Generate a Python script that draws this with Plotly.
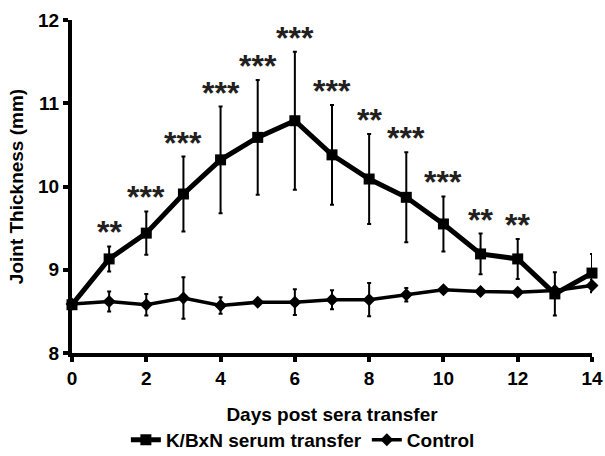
import plotly.graph_objects as go

days = list(range(15))
kbxn_mean = [8.58, 9.13, 9.44, 9.91, 10.32, 10.59, 10.79, 10.38, 10.09, 9.87, 9.55, 9.19, 9.13, 8.71, 8.96]
kbxn_err = [0.02, 0.15, 0.26, 0.45, 0.64, 0.69, 0.83, 0.60, 0.54, 0.54, 0.33, 0.245, 0.24, 0.26, 0.23]
ctrl_mean = [8.59, 8.62, 8.58, 8.66, 8.57, 8.61, 8.61, 8.64, 8.64, 8.70, 8.76, 8.74, 8.73, 8.75, 8.81]
ctrl_err = [0.02, 0.12, 0.13, 0.25, 0.10, 0.02, 0.155, 0.115, 0.20, 0.08, 0.02, 0.03, 0.02, 0.02, 0.07]
sig_labels = ["", "**", "***", "***", "***", "***", "***", "***", "**", "***", "***", "**", "**", "", ""]
y_ticks = [8, 9, 10, 11, 12]
x_ticks = [0, 2, 4, 6, 8, 10, 12, 14]

FONT = "Liberation Sans, Arial, sans-serif"

fig = go.Figure()
fig.add_trace(go.Scatter(
    x=days, y=kbxn_mean, mode="lines+markers", name="K/BxN serum transfer",
    line=dict(color="black", width=5),
    marker=dict(symbol="square", size=11, color="black"),
    error_y=dict(type="data", array=kbxn_err, color="black", thickness=2, width=2),
    cliponaxis=False,
))
fig.add_trace(go.Scatter(
    x=days, y=ctrl_mean, mode="lines+markers", name="Control",
    line=dict(color="black", width=3.5),
    marker=dict(symbol="diamond", size=10, color="black"),
    error_y=dict(type="data", array=ctrl_err, color="black", thickness=2, width=2),
    cliponaxis=False,
))

for d, m, e, s in zip(days, kbxn_mean, kbxn_err, sig_labels):
    if s:
        fig.add_annotation(x=d, y=m + e, text=s, showarrow=False,
                           yanchor="bottom", yshift=-6,
                           font=dict(family=FONT, size=32, color="#231f20", weight="bold"))

fig.update_layout(
    width=605, height=456,
    margin=dict(l=72, r=13, t=20, b=103, autoexpand=False),
    plot_bgcolor="white", paper_bgcolor="white",
    font=dict(family=FONT, color="black"),
    showlegend=True,
    legend=dict(orientation="h", x=0.444, xanchor="center", y=-0.261, yanchor="middle",
                font=dict(family=FONT, size=19, color="black", weight="bold"),
                itemwidth=30, tracegroupgap=0),
)
fig.update_xaxes(
    range=[0, 14], tickvals=x_ticks, ticktext=[str(v) for v in x_ticks],
    showline=True, linecolor="black", linewidth=4, showgrid=False, zeroline=False,
    ticks="outside", ticklen=5, tickwidth=4, tickcolor="black", automargin=False,
    ticklabeloverflow="allow",
    tickfont=dict(family=FONT, size=19, color="black", weight="bold"),
    title=dict(text="Days post sera transfer", standoff=21,
               font=dict(family=FONT, size=19, color="black", weight="bold")),
)
fig.update_yaxes(
    range=[8, 12], tickvals=y_ticks, ticktext=[str(v) for v in y_ticks],
    showline=True, linecolor="black", linewidth=4, showgrid=False, zeroline=False,
    ticks="outside", ticklen=5, tickwidth=4, tickcolor="black", automargin=False,
    tickfont=dict(family=FONT, size=19, color="black", weight="bold"),
    title=dict(text="Joint Thickness (mm)", standoff=10,
               font=dict(family=FONT, size=19, color="black", weight="bold")),
)

fig.write_html("out.html", config={"displayModeBar": False},
               post_script="document.body.style.margin='0';document.body.style.overflow='hidden';")
